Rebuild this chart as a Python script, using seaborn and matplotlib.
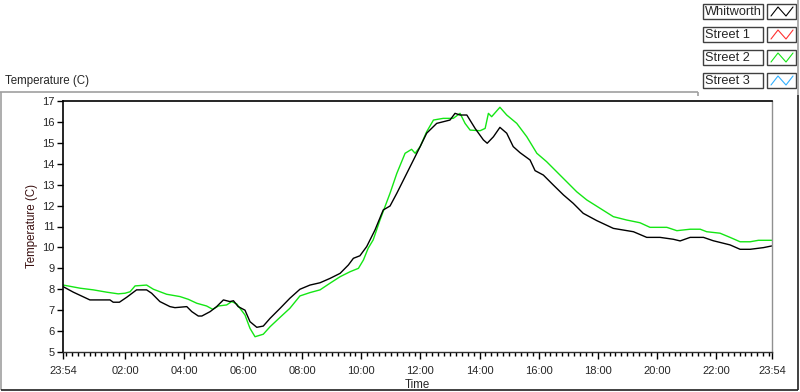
import numpy as np
import pandas as pd
import matplotlib
matplotlib.use("Agg")
import matplotlib.pyplot as plt
from matplotlib.lines import Line2D
from matplotlib.patches import Rectangle
import seaborn as sns

# ---------------- data (hours after 23:54, temperature in C) ----------------
whitworth_t = [0.01, 0.35, 0.91, 1.59, 1.70, 1.91, 2.16, 2.49, 2.83, 3.00, 3.28, 3.62, 3.79,
               4.19, 4.36, 4.58, 4.70, 4.98, 5.20, 5.43, 5.65, 5.77, 5.93, 6.16, 6.33, 6.56,
               6.78, 7.01, 7.35, 7.68, 8.02, 8.36, 8.70, 9.04, 9.38, 9.66, 9.83, 10.05, 10.28,
               10.56, 10.84, 11.07, 11.30, 11.75, 12.09, 12.31, 12.65, 13.10, 13.27, 13.44,
               13.67, 13.95, 14.23, 14.36, 14.57, 14.79, 15.02, 15.24, 15.47, 15.81, 15.98,
               16.26, 16.60, 16.94, 17.27, 17.61, 18.07, 18.63, 19.31, 19.76, 20.21, 20.66,
               20.89, 21.23, 21.68, 22.01, 22.58, 22.92, 23.26, 23.71, 23.99]
whitworth_v = [8.12, 7.86, 7.49, 7.49, 7.38, 7.38, 7.62, 7.97, 7.97, 7.81, 7.41, 7.17, 7.12,
               7.17, 6.93, 6.72, 6.72, 6.93, 7.17, 7.49, 7.41, 7.45, 7.17, 7.00, 6.45, 6.18,
               6.24, 6.61, 7.09, 7.57, 8.00, 8.20, 8.31, 8.52, 8.76, 9.16, 9.48, 9.60, 10.04,
               10.83, 11.79, 11.98, 12.59, 13.86, 14.82, 15.46, 15.93, 16.09, 16.41, 16.33,
               16.33, 15.69, 15.14, 14.98, 15.29, 15.74, 15.46, 14.82, 14.53, 14.18, 13.67,
               13.46, 12.98, 12.51, 12.11, 11.63, 11.28, 10.91, 10.75, 10.48, 10.48, 10.39,
               10.31, 10.48, 10.48, 10.32, 10.12, 9.91, 9.91, 9.99, 10.07]

street2_t = [0.01, 0.58, 1.03, 1.48, 1.87, 2.10, 2.27, 2.44, 2.83, 3.06, 3.51, 3.96, 4.24,
             4.53, 4.86, 5.07, 5.26, 5.54, 5.71, 5.88, 6.16, 6.33, 6.50, 6.78, 7.01, 7.35,
             7.68, 8.02, 8.36, 8.70, 9.04, 9.38, 9.72, 10.00, 10.17, 10.33, 10.50, 10.73,
             11.07, 11.30, 11.58, 11.80, 11.92, 12.09, 12.31, 12.54, 12.87, 13.21, 13.44,
             13.61, 13.78, 14.12, 14.29, 14.40, 14.51, 14.79, 15.02, 15.36, 15.70, 16.04,
             16.37, 16.71, 17.05, 17.39, 17.73, 18.18, 18.63, 19.08, 19.53, 19.87, 20.44,
             20.78, 21.23, 21.57, 21.79, 22.24, 22.58, 22.92, 23.26, 23.54, 23.99]
street2_v = [8.20, 8.05, 7.97, 7.86, 7.78, 7.81, 7.88, 8.16, 8.20, 8.00, 7.76, 7.65, 7.52,
             7.33, 7.20, 7.04, 7.20, 7.25, 7.41, 7.30, 6.77, 6.13, 5.73, 5.85, 6.21, 6.66,
             7.09, 7.68, 7.84, 7.97, 8.29, 8.60, 8.84, 9.00, 9.40, 9.96, 10.36, 11.31,
             12.59, 13.54, 14.50, 14.69, 14.50, 14.82, 15.53, 16.09, 16.17, 16.17, 16.41,
             15.93, 15.61, 15.58, 15.69, 16.41, 16.25, 16.70, 16.33, 15.93, 15.29, 14.50,
             14.10, 13.62, 13.14, 12.66, 12.27, 11.87, 11.47, 11.31, 11.18, 10.96, 10.96,
             10.80, 10.87, 10.87, 10.75, 10.68, 10.48, 10.27, 10.27, 10.34, 10.34]

series_names = ["Whitworth", "Street 1", "Street 2", "Street 3"]
series_colors = ["#000000", "#ff3030", "#14e614", "#30b0ff"]

x_tick_pos = [0.0, 2.1, 4.1, 6.1, 8.1, 10.1, 12.1, 14.1, 16.1, 18.1, 20.1, 22.1, 24.0]
x_tick_labels = ["23:54", "02:00", "04:00", "06:00", "08:00", "10:00", "12:00",
                 "14:00", "16:00", "18:00", "20:00", "22:00", "23:54"]
y_ticks = list(range(5, 18))

# ---------------- style ----------------
sns.set_style("white")
plt.rcParams["font.family"] = ["Liberation Sans", "DejaVu Sans"]

W, H = 800, 392
fig = plt.figure(figsize=(W / 100, H / 100), dpi=100)
fig.patch.set_facecolor("white")

def fx(px):
    return px / W

def fy(py):
    return 1 - py / H

ax = fig.add_axes([fx(63), fy(352), fx(772) - fx(63), fy(101) - fy(352)])

df = pd.concat([
    pd.DataFrame({"t": street2_t, "v": street2_v, "s": "Street 2"}),
    pd.DataFrame({"t": whitworth_t, "v": whitworth_v, "s": "Whitworth"}),
], ignore_index=True)

sns.lineplot(data=df[df.s == "Street 2"], x="t", y="v", color=series_colors[2],
             lw=1.0, estimator=None, sort=True, legend=False, ax=ax)
sns.lineplot(data=df[df.s == "Whitworth"], x="t", y="v", color=series_colors[0],
             lw=1.0, estimator=None, sort=True, legend=False, ax=ax)

ax.set_xlim(0, 24)
ax.set_ylim(5, 17)
ax.set_xticks(x_tick_pos)
ax.set_xticklabels(x_tick_labels)
ax.set_xticks([0.1 + 0.2 * k for k in range(120)], minor=True)
ax.set_yticks(y_ticks)
ax.set_yticklabels([str(v) for v in y_ticks])
ax.tick_params(axis="x", which="major", length=5, width=1, color="black",
               labelsize=8, pad=5, direction="out", bottom=True)
ax.tick_params(axis="x", which="minor", length=3, width=1, color="black",
               direction="out", bottom=True)
ax.tick_params(axis="y", which="major", length=4, width=1, color="black",
               labelsize=8, pad=2, direction="out", left=True)
ax.set_xlabel("Time", fontsize=8.3, labelpad=2)
ax.set_ylabel("Temperature (C)", fontsize=8.3, color="#3a1010", labelpad=3)

for side in ["left", "top"]:
    ax.spines[side].set_color("black")
    ax.spines[side].set_linewidth(1.2)
ax.spines["bottom"].set_color("#303030")
ax.spines["bottom"].set_linewidth(1.0)
ax.spines["right"].set_color("#909090")
ax.spines["right"].set_linewidth(1.0)

# ---------------- outer frame ----------------
def fline(x0, y0, x1, y1, color, lw=1.0):
    fig.add_artist(Line2D([fx(x0), fx(x1)], [fy(y0), fy(y1)], color=color, lw=lw,
                          transform=fig.transFigure, solid_capstyle="butt"))

fline(0, 91.5, 698, 91.5, "#a0a0a0", 1.2)
fline(1, 91.5, 1, 390, "#a0a0a0", 1.2)
fline(1, 389.5, 798, 389.5, "#202020", 1.2)
fline(797.5, 95, 797.5, 390, "#202020", 1.2)
fline(798, 0, 798, 95, "#a0a0a0", 1.2)
fline(698, 91.5, 698, 96, "#a0a0a0", 1.2)

fig.text(fx(5), fy(81), "Temperature (C)", fontsize=8.3, ha="left", va="center")

# ---------------- legend (LabVIEW style) ----------------
for i, (name, col) in enumerate(zip(series_names, series_colors)):
    top = 4 + 23 * i
    bot = top + 15
    fig.add_artist(Rectangle((fx(703), fy(bot)), fx(763) - fx(703), fy(top) - fy(bot),
                             transform=fig.transFigure, facecolor="white",
                             edgecolor="#404040", lw=1.0))
    fig.text(fx(705), fy((top + bot) / 2 + 0.5), name, fontsize=9.2, ha="left", va="center")
    fig.add_artist(Rectangle((fx(767), fy(bot)), fx(796) - fx(767), fy(top) - fy(bot),
                             transform=fig.transFigure, facecolor="white",
                             edgecolor="#404040", lw=1.0))
    zx = [771, 778, 786, 793]
    zy = [bot - 3, top + 3, bot - 3, top + 3]
    fig.add_artist(Line2D([fx(v) for v in zx], [fy(v) for v in zy], color=col, lw=0.8,
                          transform=fig.transFigure))

fig.savefig("out.png", dpi=100, facecolor="white")
